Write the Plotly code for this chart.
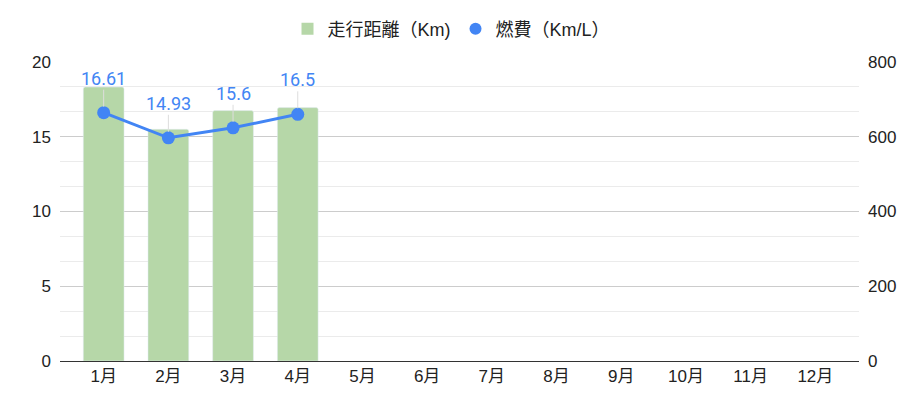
import plotly.graph_objects as go

months = ["1月", "2月", "3月", "4月", "5月", "6月", "7月", "8月", "9月", "10月", "11月", "12月"]
distance = [733, 620, 670, 678, None, None, None, None, None, None, None, None]
fuel = [16.61, 14.93, 15.6, 16.5]
fuel_months = months[:4]

FONT = "Arial, 'Liberation Sans', 'Noto Sans CJK JP', sans-serif"
GREEN = "#b6d7a8"
BLUE = "#4285f4"

fig = go.Figure()
fig.add_trace(go.Bar(
    x=months, y=distance, name="走行距離（Km)", marker=dict(color=GREEN, cornerradius=2),
    width=0.63, yaxis="y", showlegend=False,
))
fig.add_trace(go.Scatter(
    x=fuel_months, y=fuel, mode="lines+markers", name="燃費（Km/L）",
    line=dict(color=BLUE, width=3), marker=dict(color=BLUE, size=13),
    showlegend=False, yaxis="y2",
))
# legend entries
fig.add_trace(go.Scatter(
    x=[None], y=[None], mode="markers", name="走行距離（Km)",
    marker=dict(color=GREEN, size=18, symbol="square"), showlegend=True, yaxis="y2",
))
fig.add_trace(go.Scatter(
    x=[None], y=[None], mode="markers", name="燃費（Km/L）",
    marker=dict(color=BLUE, size=17), showlegend=True, yaxis="y2",
))

for m, v in zip(fuel_months, fuel):
    fig.add_annotation(
        x=m, y=v, xref="x", yref="y2", text=str(v), showarrow=True,
        arrowhead=0, arrowwidth=1, arrowcolor="#dddddd", ax=0, ay=-23,
        yanchor="bottom", font=dict(family="Roboto, Arial", size=18, color=BLUE),
        standoff=6, borderpad=0,
    )

fig.update_layout(
    width=920, height=409,
    margin=dict(l=52, r=69, t=54, b=56, autoexpand=False),
    plot_bgcolor="white", paper_bgcolor="white",
    font=dict(family=FONT, size=17, color="#222222"),
    legend=dict(orientation="h", x=0.49, xanchor="center", y=1.11, yanchor="middle",
                font=dict(family=FONT, size=18, color="#222222"),
                traceorder="normal", itemsizing="constant"),
    xaxis=dict(type="category", categoryorder="array", categoryarray=months,
               range=[-0.675, 11.675], showgrid=False, showline=True, linecolor="#333333",
               linewidth=1, ticks="", tickfont=dict(size=17), zeroline=False),
    yaxis=dict(range=[0, 800], dtick=200, side="right", showgrid=True, gridcolor="#cccccc",
               gridwidth=1, zeroline=False, ticks="", tickfont=dict(size=17), showline=False,
               ticklabelstandoff=8,
               minor=dict(dtick=200/3, ticklen=0, showgrid=True, gridcolor="#ebebeb", gridwidth=1)),
    yaxis2=dict(range=[0, 20], dtick=5, overlaying="y", side="left", showgrid=False,
                zeroline=False, ticks="", tickfont=dict(size=17), showline=False,
                ticklabelstandoff=8),
)

fig.write_html("out.html")
